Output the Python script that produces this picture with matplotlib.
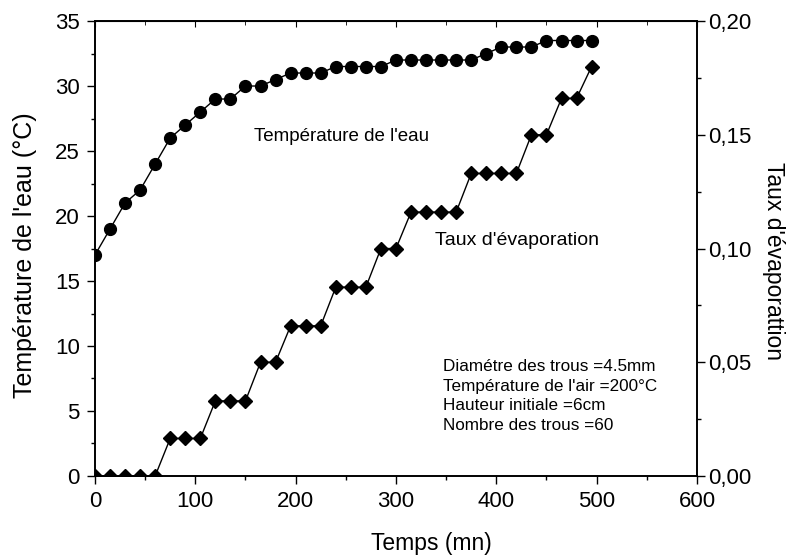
import numpy as np
import matplotlib.pyplot as plt
from matplotlib.ticker import MultipleLocator, FuncFormatter

plt.rcParams['font.family'] = ['Liberation Sans', 'DejaVu Sans']

# Données
temps = np.arange(0, 496, 15)  # mn
temp_eau = [17, 19, 21, 22, 24, 26, 27, 28, 29, 29, 30, 30, 30.5, 31, 31, 31,
            31.5, 31.5, 31.5, 31.5, 32, 32, 32, 32, 32, 32, 32.5, 33, 33, 33,
            33.5, 33.5, 33.5, 33.5]
taux_evap = [0, 0, 0, 0, 0, 0.0165, 0.0165, 0.0165, 0.033, 0.033, 0.033,
             0.050, 0.050, 0.066, 0.066, 0.066, 0.083, 0.083, 0.083, 0.100,
             0.100, 0.116, 0.116, 0.116, 0.116, 0.133, 0.133, 0.133, 0.133,
             0.150, 0.150, 0.166, 0.166, 0.180]

conditions = ["Diamétre des trous =4.5mm",
              "Température de l'air =200°C",
              "Hauteur initiale =6cm",
              "Nombre des trous =60"]

fig = plt.figure(figsize=(7.96, 5.56), dpi=100)
ax = fig.add_axes([0.1193, 0.1439, 0.7563, 0.8183])
ax2 = ax.twinx()

ax.plot(temps, temp_eau, color='black', lw=1, marker='o', ms=8.5)
ax2.plot(temps, taux_evap, color='black', lw=1, marker='D', ms=7)

ax.set_xlim(0, 600)
ax.set_ylim(0, 35)
ax2.set_ylim(0, 0.20)

ax.xaxis.set_major_locator(MultipleLocator(100))
ax.xaxis.set_minor_locator(MultipleLocator(50))
ax.yaxis.set_major_locator(MultipleLocator(5))
ax.yaxis.set_minor_locator(MultipleLocator(2.5))
ax2.yaxis.set_major_locator(MultipleLocator(0.05))
ax2.yaxis.set_minor_locator(MultipleLocator(0.025))
ax2.yaxis.set_major_formatter(FuncFormatter(lambda v, p: f"{v:.2f}".replace('.', ',')))

# graduations du haut vers l'intérieur
top = ax.secondary_xaxis('top')
top.xaxis.set_major_locator(MultipleLocator(100))
top.xaxis.set_minor_locator(MultipleLocator(50))
top.tick_params(which='both', direction='in', labeltop=False)
top.tick_params(which='major', length=4)
top.tick_params(which='minor', length=3)

for a in (ax, ax2):
    a.tick_params(which='both', direction='out', labelsize=16, pad=5)
    a.tick_params(which='major', length=6, width=1)
    a.tick_params(which='minor', length=3, width=1)
    for s in a.spines.values():
        s.set_linewidth(1.2)
ax2.tick_params(which='both', pad=2)

ax.set_xlabel("Temps (mn)", fontsize=16.5, labelpad=14)
ax.xaxis.label.set_x(0.558)
ax.set_ylabel("Température de l'eau (°C)", fontsize=18, labelpad=13)
ax.yaxis.label.set_y(0.486)
ax2.set_ylabel("Taux d'évaporattion", fontsize=16.5, rotation=270, labelpad=24)
ax2.yaxis.label.set_y(0.4725)

ax.text(159, 26.1, "Température de l'eau", fontsize=13.5, va='center')
ax.text(339, 18.1, "Taux d'évaporation", fontsize=14, va='center')
for i, line in enumerate(conditions):
    ax.text(347, 8.4 - i * 1.5, line, fontsize=12.3, va='center')

fig.savefig("out.png", dpi=100)
